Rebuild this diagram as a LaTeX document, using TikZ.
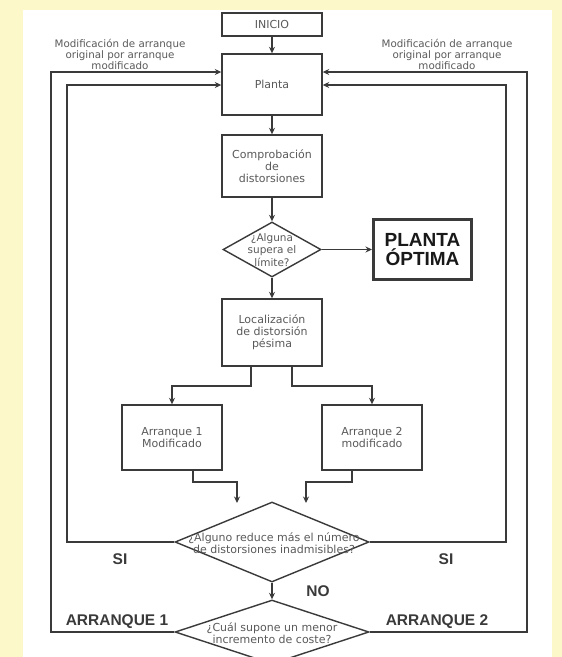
\documentclass[tikz,border=0pt]{standalone}
\usepackage{fontspec}
\setmainfont{DejaVu Sans}
\newfontfamily\labfont{Liberation Sans}
\usetikzlibrary{shapes.geometric,arrows.meta}
\definecolor{cream}{HTML}{FDF8C9}
\definecolor{ln}{HTML}{3A3A3A}
\definecolor{tx}{HTML}{5A5A5A}
\tikzset{
  box/.style={draw=ln, line width=1.4pt, fill=white, minimum width=100pt, inner sep=0pt, align=center, text=tx, font=\fontsize{11}{12}\selectfont},
  dia/.style={draw=ln, line width=1.4pt, diamond, inner sep=0pt},
  dtxt/.style={align=center, text=tx, font=\fontsize{11}{11.5}\selectfont, inner sep=0pt},
  note/.style={align=center, text=tx, font=\fontsize{10.3}{11}\selectfont, inner sep=0pt},
  big/.style={font=\labfont\bfseries\fontsize{15.5}{16}\selectfont, text=ln, inner sep=0pt},
  conn/.style={draw=ln, line width=1.7pt},
  arr/.style={conn, -{Stealth[length=6.5pt,width=6pt]}}
}
\begin{document}
\begin{tikzpicture}[x=1pt,y=-1pt]
\clip (0,0) rectangle (562,657);
\fill[cream] (0,0) rectangle (562,657);
\fill[white] (23,10) rectangle (552,657);

% nodes
\node[box, minimum height=23pt] (ini) at (272,24.5) {INICIO};
\node[box, minimum height=61pt] (pl) at (272,84.5) {Planta};
\node[box, minimum height=62pt] (comp) at (272,166) {Comprobación\\de\\distorsiones};
\node[dia, minimum width=98pt, minimum height=55pt] (d1) at (272,249.5) {};
\node[dtxt, font=\fontsize{10.5}{12.5}\selectfont] (d1t) at (272,250) {¿Alguna\\supera el\\límite?};
\node[draw=ln, line width=3pt, fill=white, minimum width=98pt, minimum height=60pt, align=center, inner sep=0pt,
      font=\labfont\bfseries\fontsize{19}{19.5}\selectfont, text=black!90] (opt) at (422.5,249.5) {PLANTA\\ÓPTIMA};
\node[box, minimum height=67pt] (loc) at (272,332.5) {Localización\\de distorsión\\pésima};
\node[box, minimum height=65pt] (a1) at (172,437.5) {Arranque 1\\Modificado};
\node[box, minimum height=65pt] (a2) at (372,437.5) {Arranque 2\\modificado};
\node[dia, minimum width=194pt, minimum height=80pt] (d2) at (272,542) {};
\node[dtxt] (d2t) at (274,543) {¿Alguno reduce más el número\\de distorsiones inadmisibles?};
\node[dia, minimum width=194pt, minimum height=64pt] (d3) at (272,632) {};
\node[dtxt] (d3t) at (272,633) {¿Cuál supone un menor\\incremento de coste?};

% labels
\node[note] (nl) at (120,54) {Modificación de arranque\\original por arranque\\modificado};
\node[note] (nr) at (447,54) {Modificación de arranque\\original por arranque\\modificado};
\node[big] (si1) at (120,559) {SI};
\node[big] (si2) at (446,559) {SI};
\node[big] (no) at (318,591) {NO};
\node[big] (ar1) at (117,622) {ARRANQUE 1};
\node[big] (ar2) at (437,622) {ARRANQUE 2};

% coordinates
\coordinate (oL) at (51,72);
\coordinate (iL) at (67,85);
\coordinate (oR) at (527,72);
\coordinate (iR) at (506,85);
\coordinate (e1) at (237,503);
\coordinate (e2) at (306,503);

% connectors
\draw[arr] (ini) -- (pl);
\draw[arr] (pl) -- (comp);
\draw[arr] (comp) -- (d1);
\draw[arr] (d1.east) -- (d1.east -| opt.west);
\draw[arr] (d1.south) -- (loc.north);
\draw[arr] ([xshift=-21pt]loc.south) -- ++(0,19) -| (a1.north);
\draw[arr] ([xshift=20pt]loc.south) -- ++(0,19) -| (a2.north);
\draw[arr] ([xshift=21pt]a1.south) -- ++(0,11) -| (e1);
\draw[arr] ([xshift=-20pt]a2.south) -- ++(0,11) -| (e2);
\draw[arr] (d2.south) -- (d3.north);
\draw[arr] (d2.west) -| (iL) -- (iL -| pl.west);
\draw[arr] (d2.east) -| (iR) -- (iR -| pl.east);
\draw[arr] (d3.west) -| (oL) -- (oL -| pl.west);
\draw[arr] (d3.east) -| (oR) -- (oR -| pl.east);
\end{tikzpicture}
\end{document}
